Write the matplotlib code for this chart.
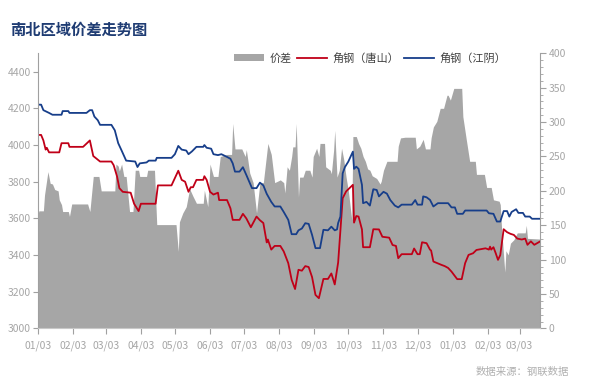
import matplotlib
matplotlib.use("Agg")
import matplotlib.pyplot as plt
import matplotlib.dates as mdates
from matplotlib.ticker import MultipleLocator
import numpy as np

plt.rcParams['font.family'] = ['Noto Sans CJK SC', 'DejaVu Sans']

START = np.datetime64('2024-01-03')

# 角钢（江阴） (day offset from 2024-01-03, price)
jy_day = [0, 3, 5, 10, 13, 21, 22, 27, 28, 43, 46, 48, 50, 53, 55, 65, 68, 71, 74, 78, 86, 88, 90, 96, 98,
          104, 105, 118, 121, 124, 127, 131, 133, 136, 140, 146, 147, 149, 153, 155, 159, 162, 167, 170,
          172, 174, 178, 181, 184, 189, 193, 196, 199, 202, 206, 209, 214, 217, 221, 224, 228, 230, 233,
          236, 239, 242, 245, 249, 252, 256, 259, 262, 264, 265, 267, 269, 271, 274, 278, 279, 281, 283,
          286, 287, 290, 293, 296, 299, 301, 305, 308, 311, 315, 318, 321, 330, 333, 335, 339, 340, 343,
          346, 349, 353, 362, 365, 368, 370, 375, 377, 396, 398, 402, 405, 408, 411, 414, 416, 418, 422,
          424, 428, 430, 434, 436, 443]
jy_val = [4220, 4220, 4190, 4175, 4165, 4165, 4185, 4185, 4175, 4175, 4190, 4190, 4155, 4135, 4110, 4110,
          4080, 4010, 3970, 3915, 3910, 3880, 3900, 3905, 3915, 3915, 3930, 3930, 3950, 3995, 3975, 3970,
          3950, 3965, 3990, 3990, 4000, 3985, 3980, 3950, 3945, 3950, 3935, 3925, 3900, 3855, 3855, 3879,
          3837, 3765, 3765, 3795, 3780, 3734, 3690, 3665, 3665, 3635, 3592, 3514, 3514, 3535, 3545, 3574,
          3570, 3510, 3438, 3438, 3538, 3535, 3555, 3535, 3540, 3575, 3610, 3846, 3880, 3910, 3964, 3870,
          3882, 3870, 3783, 3683, 3690, 3670, 3759, 3755, 3720, 3745, 3735, 3700, 3670, 3660, 3675, 3675,
          3700, 3675, 3675, 3720, 3715, 3701, 3665, 3683, 3683, 3660, 3660, 3625, 3625, 3643, 3643, 3628,
          3625, 3583, 3583, 3640, 3640, 3610, 3635, 3650, 3630, 3630, 3610, 3610, 3598, 3598]

# 角钢（唐山）
ts_day = [0, 3, 5, 7, 8, 10, 19, 21, 27, 28, 40, 46, 49, 55, 65, 67, 70, 72, 75, 82, 85, 89, 91, 104, 106,
          118, 121, 124, 127, 130, 133, 135, 137, 140, 146, 147, 149, 152, 155, 159, 160, 167, 170, 172,
          178, 181, 184, 188, 193, 196, 199, 202, 203, 206, 209, 214, 217, 221, 224, 227, 230, 233, 236,
          239, 242, 245, 248, 252, 256, 259, 262, 265, 269, 272, 278, 279, 281, 283, 286, 287, 293, 296,
          301, 304, 310, 313, 316, 318, 321, 330, 332, 335, 337, 339, 343, 346, 347, 349, 356, 359, 362,
          365, 370, 374, 377, 380, 384, 387, 395, 398, 399, 400, 402, 404, 406, 408, 411, 414, 417, 420,
          423, 427, 430, 432, 435, 438, 443]
ts_val = [4055, 4055, 4025, 3975, 3985, 3960, 3960, 4010, 4010, 3990, 3990, 4025, 3940, 3910, 3910, 3890,
          3828, 3765, 3745, 3740, 3680, 3640, 3680, 3680, 3780, 3780, 3820, 3860, 3810, 3800, 3745, 3770,
          3770, 3810, 3810, 3830, 3810, 3745, 3730, 3740, 3700, 3700, 3655, 3592, 3592, 3625, 3600, 3552,
          3610, 3590, 3575, 3469, 3485, 3430, 3450, 3450, 3420, 3356, 3265, 3215, 3320, 3315, 3340, 3335,
          3280, 3183, 3165, 3270, 3270, 3300, 3240, 3360, 3710, 3747, 3783, 3577, 3613, 3610, 3540, 3443,
          3443, 3541, 3540, 3500, 3495, 3455, 3450, 3383, 3405, 3405, 3436, 3405, 3405, 3470, 3465, 3430,
          3425, 3365, 3347, 3340, 3330, 3310, 3269, 3269, 3356, 3401, 3410, 3428, 3437, 3430, 3446, 3430,
          3443, 3410, 3374, 3400, 3541, 3525, 3516, 3510, 3490, 3485, 3490, 3456, 3475, 3456, 3474]

# 价差
sp_day = [0, 1, 5, 6, 9, 11, 13, 15, 18, 19, 21, 22, 27, 28, 30, 44, 46, 49, 54, 56, 68, 69, 71, 72, 74, 76,
          78, 81, 84, 86, 89, 90, 96, 97, 103, 105, 122, 124, 125, 128, 131, 134, 137, 140, 146, 147, 150,
          152, 155, 159, 161, 167, 171, 172, 174, 180, 183, 184, 187, 190, 193, 196, 199, 203, 206, 209,
          214, 217, 218, 220, 222, 224, 225, 227, 228, 230, 231, 234, 236, 240, 242, 243, 246, 248, 249,
          253, 254, 258, 259, 261, 262, 264, 266, 268, 270, 272, 274, 277, 278, 281, 283, 285, 287, 289,
          291, 293, 295, 299, 302, 303, 305, 308, 317, 318, 320, 324, 333, 334, 337, 340, 342, 346, 347,
          349, 352, 355, 358, 361, 362, 364, 367, 374, 375, 378, 381, 386, 387, 394, 396, 400, 402, 407,
          408, 409, 412, 413, 415, 417, 420, 423, 430, 431, 432, 443]
sp_val = [163, 171, 171, 194, 228, 211, 210, 202, 200, 187, 180, 170, 170, 163, 181, 181, 170, 221, 221, 200,
          200, 239, 236, 229, 239, 221, 221, 170, 170, 230, 230, 221, 221, 230, 230, 151, 151, 112, 155, 168,
          177, 203, 192, 182, 182, 201, 177, 239, 221, 221, 250, 253, 253, 298, 261, 261, 250, 260, 226, 212,
          168, 212, 212, 269, 253, 212, 216, 212, 197, 235, 230, 250, 264, 264, 298, 191, 220, 220, 230, 230,
          220, 250, 262, 250, 269, 269, 235, 230, 225, 259, 288, 220, 230, 262, 245, 220, 200, 158, 279, 279,
          269, 262, 250, 243, 232, 230, 222, 218, 210, 214, 230, 243, 243, 265, 277, 278, 278, 261, 265, 275,
          261, 261, 277, 293, 301, 320, 320, 339, 339, 332, 349, 349, 308, 275, 243, 243, 224, 224, 205, 205,
          187, 185, 180, 150, 82, 113, 107, 124, 129, 139, 139, 150, 131, 130]

tick_months = ['2024-01-03', '2024-02-03', '2024-03-03', '2024-04-03', '2024-05-03', '2024-06-03',
               '2024-07-03', '2024-08-03', '2024-09-03', '2024-10-03', '2024-11-03', '2024-12-03',
               '2025-01-03', '2025-02-03', '2025-03-03']

jy_x = START + np.array(jy_day).astype('timedelta64[D]')
ts_x = START + np.array(ts_day).astype('timedelta64[D]')
sp_x = START + np.array(sp_day).astype('timedelta64[D]')

fig = plt.figure(figsize=(5.94, 3.87), dpi=100)
ax = fig.add_axes([0.0635, 0.1512, 0.8455, 0.7111])
ax2 = ax.twinx()
ax.set_zorder(ax2.get_zorder() + 1)
ax.patch.set_visible(False)

GRAY_TXT = '#a6a6a6'
ax2.fill_between(sp_x, 0, sp_val, color='#a6a6a6', lw=0, label='价差')
ax.plot(ts_x, ts_val, color='#c00018', lw=1.3, label='角钢（唐山）')
ax.plot(jy_x, jy_val, color='#173e8a', lw=1.3, label='角钢（江阴）')

ax.set_ylim(3000, 4500)
ax2.set_ylim(0, 400)
ax.set_xlim(START, START + np.timedelta64(443, 'D'))

ax.set_yticks(range(3000, 4401, 200))
ax2.yaxis.set_major_locator(MultipleLocator(50))
ax2.yaxis.set_minor_locator(MultipleLocator(10))
ax.set_xticks([np.datetime64(d) for d in tick_months])
ax.xaxis.set_major_formatter(mdates.DateFormatter('%m/%d'))

for a in (ax, ax2):
    for s in a.spines.values():
        s.set_visible(False)
ax.spines['left'].set_visible(True)
ax.spines['left'].set_color('#a0a0a0')
ax.spines['bottom'].set_visible(True)
ax.spines['bottom'].set_color('#c8c8c8')
ax2.spines['right'].set_visible(True)
ax2.spines['right'].set_color('#a0a0a0')

ax.tick_params(axis='y', colors='#a0a0a0', labelcolor=GRAY_TXT, labelsize=7.5, length=3.5, width=0.8, pad=1.5)
ax.tick_params(axis='x', colors='#a0a0a0', labelcolor=GRAY_TXT, labelsize=7.5, length=4, width=0.8, pad=5)
ax2.tick_params(axis='y', which='major', colors='#a0a0a0', labelcolor=GRAY_TXT, labelsize=7.5, length=4.5, width=0.8, pad=2)
ax2.tick_params(axis='y', which='minor', colors='#a0a0a0', length=2.5, width=0.6)

fig.text(0.017, 0.922, '南北区域价差走势图', fontsize=11, fontweight='bold', color='#1f3c73', va='center', ha='left')
fig.text(0.958, 0.04, '数据来源：钢联数据', fontsize=7.5, color='#b0b0b0', va='center', ha='right')

h2, l2 = ax2.get_legend_handles_labels()
h1, l1 = ax.get_legend_handles_labels()
leg = fig.legend(h2 + h1, l2 + l1, loc='center right', bbox_to_anchor=(0.852, 0.85), ncol=3, frameon=False,
                 fontsize=8, handlelength=2.7, handleheight=0.5, handletextpad=0.45, columnspacing=0.5,
                 borderaxespad=0, borderpad=0)
for t in leg.get_texts():
    t.set_color('#404040')

fig.savefig('out.png', dpi=100)
